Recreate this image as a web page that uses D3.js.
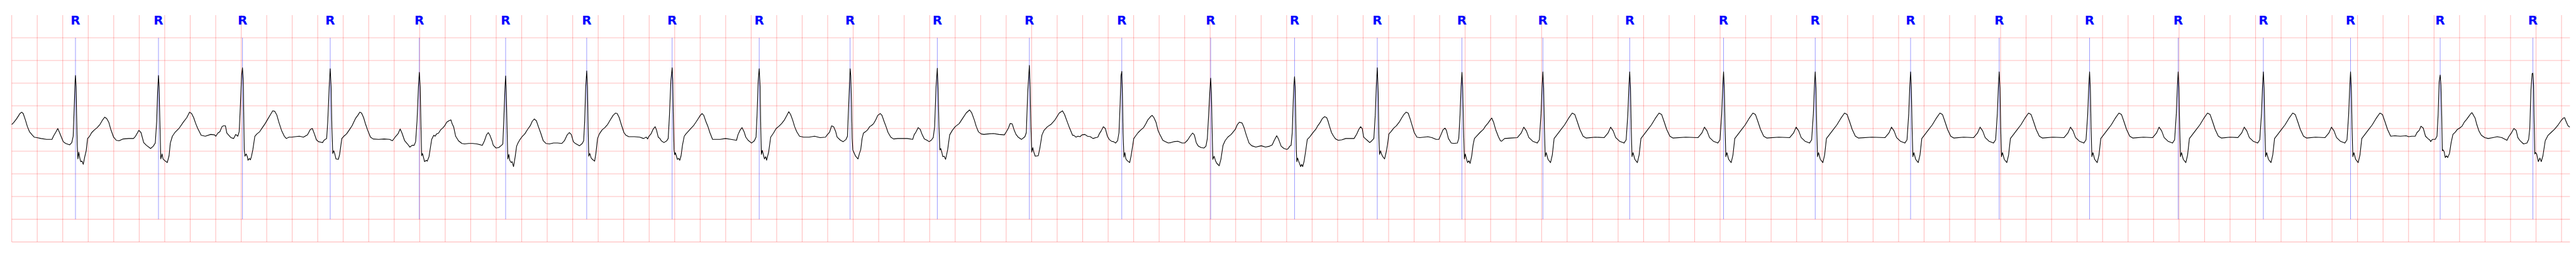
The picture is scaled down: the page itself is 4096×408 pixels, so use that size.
<!DOCTYPE html>
<html><head><meta charset="utf-8">
<script src="https://cdn.jsdelivr.net/npm/d3@7"></script>
<style>html,body{margin:0;padding:0;background:#fff;overflow:hidden}svg{display:block}</style>
</head><body>
<svg id="chart" width="4096" height="408"></svg>
<script>
// ECG trace: [time (s), amplitude (mV)]
const ecgPoints = [
[0.000,0.09],[0.015,0.13],[0.037,0.21],[0.053,0.28],[0.064,0.33],[0.078,0.36],[0.090,0.33],[0.107,0.19],[0.123,0.04],[0.139,-0.07],[0.160,-0.14],[0.176,-0.19],[0.198,-0.20],[0.230,-0.22],[0.273,-0.24],[0.316,-0.24],[0.327,-0.17],[0.348,-0.07],[0.361,0.00],[0.375,-0.09],[0.391,-0.20],[0.404,-0.29],[0.423,-0.33],[0.455,-0.36],[0.471,-0.31],[0.482,-0.17],[0.491,0.54],[0.497,1.05],[0.500,1.17],[0.505,0.92],[0.509,0.29],[0.514,-0.37],[0.519,-0.67],[0.526,-0.52],[0.534,-0.65],[0.541,-0.73],[0.552,-0.72],[0.561,-0.79],[0.573,-0.62],[0.584,-0.49],[0.595,-0.22],[0.611,-0.17],[0.627,-0.09],[0.649,-0.03],[0.670,0.02],[0.692,0.09],[0.713,0.19],[0.729,0.25],[0.745,0.22],[0.761,0.14],[0.777,-0.02],[0.799,-0.19],[0.820,-0.26],[0.842,-0.27],[0.874,-0.23],[0.917,-0.22],[0.955,-0.22],[0.971,-0.17],[0.987,-0.09],[0.997,-0.04],[1.014,-0.09],[1.035,-0.31],[1.056,-0.37],[1.089,-0.44],[1.110,-0.39],[1.126,-0.32],[1.137,0.16],[1.144,0.79],[1.151,1.17],[1.156,0.92],[1.162,0.16],[1.169,-0.67],[1.179,-0.56],[1.187,-0.67],[1.201,-0.71],[1.220,-0.75],[1.234,-0.60],[1.244,-0.32],[1.260,-0.17],[1.282,-0.08],[1.314,0.01],[1.346,0.14],[1.373,0.24],[1.395,0.36],[1.411,0.33],[1.427,0.24],[1.443,0.11],[1.459,0.00],[1.486,-0.15],[1.518,-0.17],[1.561,-0.13],[1.591,-0.14],
[1.601,-0.17],[1.617,-0.10],[1.633,-0.07],[1.649,0.04],[1.660,0.06],[1.676,0.06],[1.687,-0.10],[1.703,-0.15],[1.719,-0.20],[1.741,-0.22],[1.757,-0.13],[1.773,-0.17],[1.784,-0.07],[1.794,0.54],[1.803,1.17],[1.810,1.34],[1.816,1.05],[1.820,0.29],[1.824,-0.47],[1.829,-0.61],[1.839,-0.56],[1.848,-0.62],[1.853,-0.70],[1.864,-0.66],[1.872,-0.69],[1.880,-0.62],[1.891,-0.47],[1.907,-0.17],[1.923,-0.12],[1.945,-0.07],[1.966,0.02],[1.988,0.11],[2.009,0.21],[2.030,0.31],[2.047,0.39],[2.063,0.38],[2.079,0.30],[2.095,0.14],[2.116,-0.04],[2.138,-0.17],[2.154,-0.22],[2.175,-0.19],[2.197,-0.19],[2.224,-0.18],[2.256,-0.17],[2.288,-0.19],[2.320,-0.14],[2.342,-0.02],[2.358,0.00],[2.374,-0.12],[2.390,-0.25],[2.406,-0.29],[2.438,-0.31],[2.449,-0.26],[2.470,-0.22],[2.479,0.16],[2.490,0.92],[2.498,1.32],[2.505,0.92],[2.511,0.04],[2.518,-0.55],[2.526,-0.49],[2.535,-0.57],[2.543,-0.67],[2.562,-0.68],[2.572,-0.57],[2.589,-0.22],[2.605,-0.17],[2.626,-0.12],[2.648,-0.03],[2.669,0.06],[2.696,0.22],[2.717,0.30],[2.730,0.36],[2.744,0.34],[2.760,0.24],[2.776,0.09],[2.792,-0.04],[2.814,-0.19],[2.835,-0.23],[2.878,-0.24],[2.921,-0.23],[2.964,-0.24],[2.986,-0.27],[3.007,-0.19],[3.029,-0.12],[3.047,-0.01],[3.061,-0.10],[3.082,-0.27],[3.104,-0.34],[3.123,-0.41],[3.141,-0.37],[3.157,-0.37],[3.168,-0.29],[3.179,0.16],[3.190,0.92],[3.197,1.24],[3.204,0.92],[3.210,0.04],[3.215,-0.60],[3.222,-0.55],[3.233,-0.67],[3.238,-0.73],[3.252,-0.70],[3.259,-0.72],
[3.273,-0.62],[3.284,-0.42],[3.294,-0.24],[3.310,-0.15],[3.321,-0.17],[3.332,-0.12],[3.348,-0.10],[3.364,-0.03],[3.380,0.01],[3.396,0.06],[3.412,0.14],[3.429,0.17],[3.445,0.19],[3.455,0.10],[3.466,0.04],[3.482,-0.17],[3.504,-0.27],[3.531,-0.33],[3.552,-0.34],[3.584,-0.33],[3.616,-0.33],[3.649,-0.34],[3.691,-0.37],[3.708,-0.27],[3.724,-0.14],[3.738,-0.09],[3.751,-0.15],[3.767,-0.27],[3.777,-0.37],[3.799,-0.43],[3.820,-0.42],[3.842,-0.37],[3.852,-0.34],[3.861,0.29],[3.869,0.92],[3.874,1.16],[3.879,0.79],[3.885,0.04],[3.891,-0.67],[3.899,-0.57],[3.906,-0.70],[3.917,-0.75],[3.925,-0.73],[3.936,-0.84],[3.949,-0.62],[3.960,-0.39],[3.971,-0.32],[3.987,-0.24],[4.003,-0.18],[4.024,-0.12],[4.046,-0.02],[4.067,0.06],[4.083,0.16],[4.099,0.21],[4.115,0.17],[4.131,0.04],[4.148,-0.09],[4.169,-0.27],[4.191,-0.33],[4.217,-0.34],[4.250,-0.32],[4.282,-0.32],[4.314,-0.33],[4.335,-0.27],[4.357,-0.14],[4.373,-0.09],[4.389,-0.13],[4.405,-0.29],[4.421,-0.33],[4.454,-0.38],[4.475,-0.33],[4.486,-0.27],[4.494,0.16],[4.502,0.92],[4.510,1.27],[4.516,0.92],[4.521,0.04],[4.526,-0.61],[4.534,-0.55],[4.545,-0.65],[4.555,-0.68],[4.572,-0.72],[4.582,-0.55],[4.595,-0.22],[4.609,-0.12],[4.631,-0.03],[4.652,0.02],[4.674,0.09],[4.695,0.19],[4.717,0.29],[4.735,0.34],[4.749,0.33],[4.765,0.24],[4.781,0.09],[4.802,-0.09],[4.818,-0.15],[4.840,-0.18],[4.883,-0.18],[4.926,-0.19],[4.956,-0.22],
[4.977,-0.19],[4.988,-0.23],[4.998,-0.17],[5.014,-0.12],[5.030,-0.02],[5.047,0.04],[5.057,-0.03],[5.071,-0.19],[5.084,-0.22],[5.095,-0.27],[5.116,-0.31],[5.138,-0.27],[5.149,-0.22],[5.159,0.29],[5.170,1.05],[5.180,1.34],[5.185,1.05],[5.189,0.29],[5.195,-0.47],[5.200,-0.58],[5.205,-0.53],[5.213,-0.60],[5.221,-0.68],[5.232,-0.66],[5.240,-0.70],[5.250,-0.60],[5.261,-0.37],[5.275,-0.17],[5.288,-0.12],[5.304,-0.07],[5.326,0.00],[5.347,0.06],[5.369,0.15],[5.385,0.22],[5.401,0.29],[5.415,0.33],[5.428,0.29],[5.444,0.16],[5.460,0.05],[5.476,-0.09],[5.497,-0.24],[5.524,-0.24],[5.556,-0.24],[5.599,-0.22],[5.642,-0.24],[5.685,-0.26],[5.696,-0.14],[5.712,-0.04],[5.728,0.02],[5.744,-0.07],[5.758,-0.19],[5.776,-0.26],[5.803,-0.32],[5.825,-0.27],[5.838,-0.19],[5.846,0.29],[5.855,1.05],[5.863,1.32],[5.870,0.92],[5.875,0.04],[5.880,-0.57],[5.887,-0.48],[5.898,-0.60],[5.904,-0.67],[5.914,-0.62],[5.921,-0.70],[5.937,-0.52],[5.953,-0.19],[5.975,-0.10],[5.996,0.00],[6.018,0.05],[6.039,0.11],[6.061,0.19],[6.082,0.30],[6.095,0.37],[6.109,0.31],[6.125,0.19],[6.141,0.04],[6.157,-0.07],[6.179,-0.17],[6.211,-0.19],[6.254,-0.19],[6.297,-0.17],[6.340,-0.20],[6.383,-0.19],[6.399,-0.13],[6.415,-0.08],[6.431,0.06],[6.447,0.04],[6.463,-0.07],[6.474,-0.19],[6.501,-0.26],[6.522,-0.29],[6.544,-0.24],[6.555,-0.17],[6.565,0.54],[6.576,1.32],[6.581,1.17],[6.587,0.54],[6.592,-0.22],[6.597,-0.47],[6.603,-0.51],[6.619,-0.61],[6.638,-0.67],
[6.649,-0.55],[6.659,-0.47],[6.670,-0.22],[6.681,-0.10],[6.697,-0.07],[6.713,-0.03],[6.729,0.04],[6.745,0.07],[6.761,0.11],[6.777,0.19],[6.793,0.29],[6.813,0.33],[6.826,0.29],[6.842,0.16],[6.858,0.04],[6.874,-0.09],[6.895,-0.19],[6.917,-0.23],[6.949,-0.22],[6.981,-0.22],[7.024,-0.22],[7.067,-0.24],[7.078,-0.14],[7.094,-0.07],[7.110,0.02],[7.126,-0.02],[7.142,-0.14],[7.158,-0.23],[7.180,-0.26],[7.196,-0.29],[7.212,-0.26],[7.228,-0.20],[7.239,0.04],[7.250,0.92],[7.260,1.33],[7.267,0.79],[7.273,0.04],[7.280,-0.47],[7.287,-0.44],[7.295,-0.52],[7.303,-0.62],[7.314,-0.61],[7.325,-0.68],[7.341,-0.47],[7.357,-0.14],[7.378,-0.04],[7.400,0.04],[7.432,0.11],[7.453,0.20],[7.486,0.34],[7.513,0.41],[7.529,0.35],[7.550,0.19],[7.566,0.04],[7.582,-0.07],[7.604,-0.12],[7.625,-0.13],[7.657,-0.12],[7.700,-0.11],[7.743,-0.13],[7.786,-0.14],[7.802,-0.07],[7.818,0.01],[7.831,0.11],[7.848,0.10],[7.861,-0.02],[7.877,-0.13],[7.894,-0.19],[7.920,-0.24],[7.947,-0.18],[7.958,-0.09],[7.969,0.79],[7.982,1.39],[7.988,0.92],[7.994,0.04],[8.001,-0.52],[8.009,-0.42],[8.017,-0.52],[8.028,-0.61],[8.052,-0.60],[8.065,-0.42],[8.081,-0.14],[8.097,-0.04],[8.124,0.04],[8.151,0.09],[8.183,0.19],[8.216,0.34],[8.242,0.39],[8.258,0.31],[8.280,0.14],[8.296,0.02],[8.321,-0.15],
[8.331,-0.15],[8.347,-0.19],[8.363,-0.17],[8.379,-0.18],[8.395,-0.14],[8.417,-0.13],[8.438,-0.17],[8.460,-0.18],[8.481,-0.22],[8.503,-0.20],[8.519,-0.19],[8.530,-0.12],[8.546,-0.05],[8.562,0.04],[8.578,0.00],[8.594,-0.17],[8.608,-0.24],[8.626,-0.28],[8.642,-0.29],[8.658,-0.32],[8.674,-0.27],[8.685,-0.09],[8.694,0.54],[8.701,1.17],[8.707,1.26],[8.712,0.79],[8.717,-0.09],[8.724,-0.63],[8.731,-0.53],[8.739,-0.67],[8.750,-0.71],[8.769,-0.75],[8.780,-0.60],[8.790,-0.42],[8.801,-0.22],[8.814,-0.17],[8.835,-0.09],[8.857,-0.03],[8.878,0.02],[8.895,0.10],[8.911,0.19],[8.932,0.26],[8.945,0.29],[8.959,0.24],[8.975,0.14],[8.991,-0.04],[9.007,-0.14],[9.029,-0.26],[9.050,-0.29],[9.072,-0.32],[9.093,-0.31],[9.115,-0.29],[9.147,-0.28],[9.179,-0.32],[9.200,-0.32],[9.222,-0.26],[9.243,-0.17],[9.262,-0.10],[9.276,-0.14],[9.292,-0.32],[9.308,-0.39],[9.329,-0.42],[9.351,-0.43],[9.367,-0.39],[9.378,-0.22],[9.388,0.29],[9.397,0.79],[9.404,1.11],[9.410,0.79],[9.415,0.04],[9.421,-0.68],[9.431,-0.61],[9.442,-0.71],[9.453,-0.77],[9.471,-0.82],[9.485,-0.67],[9.501,-0.37],[9.517,-0.27],[9.538,-0.19],[9.565,-0.13],[9.597,-0.02],[9.614,0.09],[9.630,0.14],[9.651,0.12],[9.667,0.01],[9.683,-0.14],[9.705,-0.32],[9.726,-0.38],[9.758,-0.41],[9.801,-0.38],[9.834,-0.41],[9.866,-0.39],[9.887,-0.36],[9.903,-0.26],[9.922,-0.16],[9.936,-0.23],[9.957,-0.39],[9.979,-0.44],[10.003,-0.46],
[10.013,-0.44],[10.024,-0.39],[10.035,-0.37],[10.044,-0.09],[10.051,0.54],[10.056,0.92],[10.062,1.14],[10.067,0.92],[10.071,0.29],[10.076,-0.47],[10.080,-0.73],[10.086,-0.65],[10.094,-0.72],[10.101,-0.77],[10.110,-0.84],[10.118,-0.79],[10.126,-0.84],[10.137,-0.72],[10.148,-0.52],[10.162,-0.24],[10.180,-0.19],[10.196,-0.13],[10.212,-0.07],[10.228,-0.02],[10.244,0.06],[10.260,0.12],[10.280,0.22],[10.298,0.26],[10.314,0.24],[10.325,0.16],[10.335,0.06],[10.352,-0.09],[10.368,-0.17],[10.384,-0.23],[10.405,-0.26],[10.432,-0.25],[10.464,-0.22],[10.496,-0.22],[10.529,-0.22],[10.550,-0.12],[10.566,-0.02],[10.580,0.04],[10.593,0.00],[10.604,-0.19],[10.620,-0.23],[10.636,-0.27],[10.652,-0.31],[10.668,-0.27],[10.684,-0.22],[10.695,0.29],[10.703,0.92],[10.711,1.34],[10.718,0.79],[10.724,-0.22],[10.729,-0.57],[10.737,-0.49],[10.745,-0.57],[10.754,-0.62],[10.768,-0.67],[10.781,-0.52],[10.792,-0.34],[10.802,-0.12],[10.818,-0.07],[10.840,0.01],[10.861,0.06],[10.883,0.14],[10.904,0.24],[10.920,0.31],[10.937,0.36],[10.953,0.34],[10.969,0.21],[10.985,0.06],[11.001,-0.09],[11.022,-0.19],[11.044,-0.20],[11.076,-0.19],[11.108,-0.18],[11.140,-0.20],[11.172,-0.24],[11.194,-0.24],[11.210,-0.14],[11.226,-0.03],[11.242,0.01],[11.253,-0.04],[11.269,-0.22],[11.291,-0.32],[11.312,-0.33],[11.339,-0.32],[11.350,-0.22],[11.360,0.29],[11.368,0.92],[11.375,1.24],[11.381,0.92],[11.387,0.04],[11.394,-0.67],[11.401,-0.56],[11.411,-0.67],[11.419,-0.75],[11.430,-0.71],[11.439,-0.77],[11.452,-0.60],[11.462,-0.37],[11.473,-0.22],[11.489,-0.17],[11.516,-0.09],[11.543,-0.02],[11.559,0.05],[11.580,0.12],[11.602,0.21],[11.609,0.23],[11.623,0.14],[11.639,-0.02],[11.661,-0.18],[11.677,-0.27],[11.686,-0.28],
[11.710,-0.22],[11.760,-0.21],
[11.810,-0.20],[11.840,-0.10],[11.860,0.03],[11.880,-0.05],[11.900,-0.20],[11.930,-0.28],[11.965,-0.32],[11.982,-0.25],[11.995,0.30],[12.004,0.95],[12.010,1.25],[12.016,0.90],[12.022,0.00],[12.028,-0.62],[12.036,-0.53],[12.050,-0.68],[12.070,-0.75],[12.084,-0.58],[12.098,-0.22],[12.120,-0.14],[12.150,-0.03],[12.180,0.08],[12.210,0.22],[12.240,0.34],[12.260,0.31],[12.280,0.15],[12.300,-0.02],[12.325,-0.17],[12.350,-0.21],[12.420,-0.19],
[12.491,-0.20],[12.521,-0.10],[12.541,0.03],[12.561,-0.05],[12.581,-0.20],[12.611,-0.28],[12.646,-0.32],[12.663,-0.25],[12.676,0.30],[12.685,0.95],[12.691,1.25],[12.697,0.90],[12.703,0.00],[12.709,-0.62],[12.717,-0.53],[12.731,-0.68],[12.751,-0.75],[12.765,-0.58],[12.779,-0.22],[12.801,-0.14],[12.831,-0.03],[12.861,0.08],[12.891,0.22],[12.921,0.34],[12.941,0.31],[12.961,0.15],[12.981,-0.02],[13.006,-0.17],[13.031,-0.21],[13.130,-0.19],
[13.227,-0.20],[13.257,-0.10],[13.277,0.03],[13.297,-0.05],[13.317,-0.20],[13.347,-0.28],[13.382,-0.32],[13.399,-0.25],[13.412,0.30],[13.421,0.95],[13.427,1.25],[13.433,0.90],[13.439,0.00],[13.445,-0.62],[13.453,-0.53],[13.467,-0.68],[13.487,-0.75],[13.501,-0.58],[13.515,-0.22],[13.537,-0.14],[13.567,-0.03],[13.597,0.08],[13.627,0.22],[13.657,0.34],[13.677,0.31],[13.697,0.15],[13.717,-0.02],[13.742,-0.17],[13.767,-0.21],[13.860,-0.19],
[13.946,-0.20],[13.976,-0.10],[13.996,0.03],[14.016,-0.05],[14.036,-0.20],[14.066,-0.28],[14.101,-0.32],[14.118,-0.25],[14.131,0.30],[14.140,0.95],[14.146,1.25],[14.152,0.90],[14.158,0.00],[14.164,-0.62],[14.172,-0.53],[14.186,-0.68],[14.206,-0.75],[14.220,-0.58],[14.234,-0.22],[14.256,-0.14],[14.286,-0.03],[14.316,0.08],[14.346,0.22],[14.376,0.34],[14.396,0.31],[14.416,0.15],[14.436,-0.02],[14.461,-0.17],[14.486,-0.21],[14.590,-0.19],
[14.694,-0.20],[14.724,-0.10],[14.744,0.03],[14.764,-0.05],[14.784,-0.20],[14.814,-0.28],[14.849,-0.32],[14.866,-0.25],[14.879,0.30],[14.888,0.95],[14.894,1.25],[14.900,0.90],[14.906,0.00],[14.912,-0.62],[14.920,-0.53],[14.934,-0.68],[14.954,-0.75],[14.968,-0.58],[14.982,-0.22],[15.004,-0.14],[15.034,-0.03],[15.064,0.08],[15.094,0.22],[15.124,0.34],[15.144,0.31],[15.164,0.15],[15.184,-0.02],[15.209,-0.17],[15.234,-0.21],[15.310,-0.19],
[15.389,-0.20],[15.419,-0.10],[15.439,0.03],[15.459,-0.05],[15.479,-0.20],[15.509,-0.28],[15.544,-0.32],[15.561,-0.25],[15.574,0.30],[15.583,0.95],[15.589,1.25],[15.595,0.90],[15.601,0.00],[15.607,-0.62],[15.615,-0.53],[15.629,-0.68],[15.649,-0.75],[15.663,-0.58],[15.677,-0.22],[15.699,-0.14],[15.729,-0.03],[15.759,0.08],[15.789,0.22],[15.819,0.34],[15.839,0.31],[15.859,0.15],[15.879,-0.02],[15.904,-0.17],[15.929,-0.21],[16.010,-0.19],
[16.098,-0.20],[16.128,-0.10],[16.148,0.03],[16.168,-0.05],[16.188,-0.20],[16.218,-0.28],[16.253,-0.32],[16.270,-0.25],[16.283,0.30],[16.292,0.95],[16.298,1.25],[16.304,0.90],[16.310,0.00],[16.316,-0.62],[16.324,-0.53],[16.338,-0.68],[16.358,-0.75],[16.372,-0.58],[16.386,-0.22],[16.408,-0.14],[16.438,-0.03],[16.468,0.08],[16.498,0.22],[16.528,0.34],[16.548,0.31],[16.568,0.15],[16.588,-0.02],[16.613,-0.17],[16.638,-0.21],[16.720,-0.19],
[16.793,-0.20],[16.823,-0.10],[16.843,0.03],[16.863,-0.05],[16.883,-0.20],[16.913,-0.28],[16.948,-0.32],[16.965,-0.25],[16.978,0.30],[16.987,0.95],[16.993,1.25],[16.999,0.90],[17.005,0.00],[17.011,-0.62],[17.019,-0.53],[17.033,-0.68],[17.053,-0.75],[17.067,-0.58],[17.081,-0.22],[17.103,-0.14],[17.133,-0.03],[17.163,0.08],[17.193,0.22],[17.223,0.34],[17.243,0.31],[17.263,0.15],[17.283,-0.02],[17.308,-0.17],[17.333,-0.21],[17.400,-0.19],
[17.461,-0.20],[17.491,-0.10],[17.511,0.03],[17.531,-0.05],[17.551,-0.20],[17.581,-0.28],[17.616,-0.32],[17.633,-0.25],[17.646,0.30],[17.655,0.95],[17.661,1.25],[17.667,0.90],[17.673,0.00],[17.679,-0.62],[17.687,-0.53],[17.701,-0.68],[17.721,-0.75],[17.735,-0.58],[17.749,-0.22],[17.771,-0.14],[17.801,-0.03],[17.831,0.08],[17.861,0.22],[17.891,0.34],[17.911,0.31],[17.931,0.15],[17.951,-0.02],[17.976,-0.17],[18.001,-0.21],[18.070,-0.19],
[18.145,-0.20],[18.175,-0.10],[18.195,0.03],[18.215,-0.05],[18.235,-0.20],[18.265,-0.28],[18.300,-0.32],[18.317,-0.25],[18.330,0.30],[18.339,0.95],[18.345,1.25],[18.351,0.90],[18.357,0.00],[18.363,-0.62],[18.371,-0.53],[18.385,-0.68],[18.405,-0.75],[18.419,-0.58],[18.433,-0.22],[18.455,-0.14],[18.485,-0.03],[18.515,0.08],[18.545,0.22],[18.575,0.34],[18.595,0.31],[18.615,0.15],[18.635,-0.02],[18.660,-0.17],
[18.692,-0.16],[18.736,-0.17],[18.781,-0.16],[18.801,-0.18],[18.825,-0.17],[18.852,-0.17],[18.866,-0.09],[18.884,-0.04],[18.897,0.05],[18.915,0.01],[18.933,-0.17],[18.951,-0.22],[18.969,-0.26],[18.973,-0.29],[18.987,-0.24],[19.009,-0.24],[19.023,-0.17],[19.032,0.30],[19.040,1.03],[19.048,1.18],[19.054,0.95],[19.060,0.30],[19.065,-0.49],[19.071,-0.47],[19.079,-0.51],[19.088,-0.64],[19.098,-0.60],[19.107,-0.64],[19.121,-0.55],[19.134,-0.31],[19.148,-0.13],[19.166,-0.08],[19.183,-0.02],[19.201,0.01],[19.219,0.05],[19.237,0.14],[19.255,0.20],[19.273,0.27],[19.286,0.32],[19.297,0.35],[19.308,0.30],[19.322,0.23],[19.335,0.09],[19.353,-0.06],[19.371,-0.15],[19.398,-0.20],[19.425,-0.22],[19.461,-0.20],[19.496,-0.18],[19.532,-0.20],[19.572,-0.26],[19.586,-0.18],[19.604,-0.11],[19.626,0.00],[19.644,-0.04],[19.657,-0.20],[19.675,-0.27],[19.702,-0.34],[19.729,-0.32],[19.742,-0.24],[19.751,0.01],[19.760,0.85],[19.769,1.21],[19.775,1.22],[19.781,0.95],[19.784,0.30],[19.790,-0.56],[19.796,-0.53],[19.805,-0.56],[19.818,-0.73],[19.830,-0.65],[19.841,-0.73],[19.854,-0.60],[19.872,-0.27],[19.894,-0.15],[19.917,-0.09],[19.944,-0.02],[19.971,0.07],[19.998,0.18],[20.014,0.23],[20.024,0.24],[20.038,0.14],[20.051,0.06],[20.065,0.03]
];

// R-peak annotation times (s)
const rPeakTimes = [0.500,1.151,1.810,2.498,3.197,3.874,4.510,5.180,5.863,6.576,7.260,7.982,8.707,9.404,10.062,10.711,11.375,12.010,12.691,13.427,14.146,14.894,15.589,16.298,16.993,17.661,18.345,19.048,19.775];
const rLabel = "R";

// Axis domains (s, mV) and grid steps
const timeDomain = [0, 20.066];
const mvDomain = [-2.5, 2.5];
const timeGridCount = 100;   // 0.2 s grid
const mvGridCount = 10;      // 0.5 mV grid
const markerSpan = [-2.0, 2.0];

const W = 4096, H = 408;
const margin = {left: 18.66, right: W - 4086.4, top: 23.94, bottom: H - 384.1};

const svg = d3.select("#chart");
const x = d3.scaleLinear().domain(timeDomain).range([margin.left, W - margin.right]);
const y = d3.scaleLinear().domain(mvDomain).range([H - margin.bottom, margin.top]);

const grid = svg.append("g").attr("class", "grid")
  .attr("stroke", "#ff0000").attr("stroke-opacity", 0.26).attr("stroke-width", 1.1);

grid.selectAll("line.v").data(x.ticks(timeGridCount)).join("line")
  .attr("class", "v")
  .attr("x1", d => x(d)).attr("x2", d => x(d))
  .attr("y1", y(mvDomain[1])).attr("y2", y(mvDomain[0]));

grid.selectAll("line.h").data(y.ticks(mvGridCount).filter(d => d < mvDomain[1])).join("line")
  .attr("class", "h")
  .attr("x1", x(timeDomain[0])).attr("x2", x(timeDomain[1]))
  .attr("y1", d => y(d)).attr("y2", d => y(d));

// R markers
svg.append("g").selectAll("line").data(rPeakTimes).join("line")
  .attr("x1", d => x(d)).attr("x2", d => x(d))
  .attr("y1", y(markerSpan[1])).attr("y2", y(markerSpan[0]))
  .attr("stroke", "#0000ff").attr("stroke-opacity", 0.5).attr("stroke-width", 0.8);

svg.append("g").selectAll("text").data(rPeakTimes).join("text")
  .attr("x", d => x(d)).attr("y", 38.5)
  .attr("text-anchor", "middle")
  .attr("font-family", "DejaVu Sans, sans-serif")
  .attr("font-weight", "bold")
  .attr("font-size", 20)
  .attr("fill", "#0000ff")
  .text(rLabel);

// ECG trace
const line = d3.line().x(d => x(d[0])).y(d => y(d[1]));
svg.append("path").datum(ecgPoints)
  .attr("d", line)
  .attr("fill", "none")
  .attr("stroke", "#000")
  .attr("stroke-width", 1.1)
  .attr("stroke-linejoin", "round");
</script>
</body></html>
